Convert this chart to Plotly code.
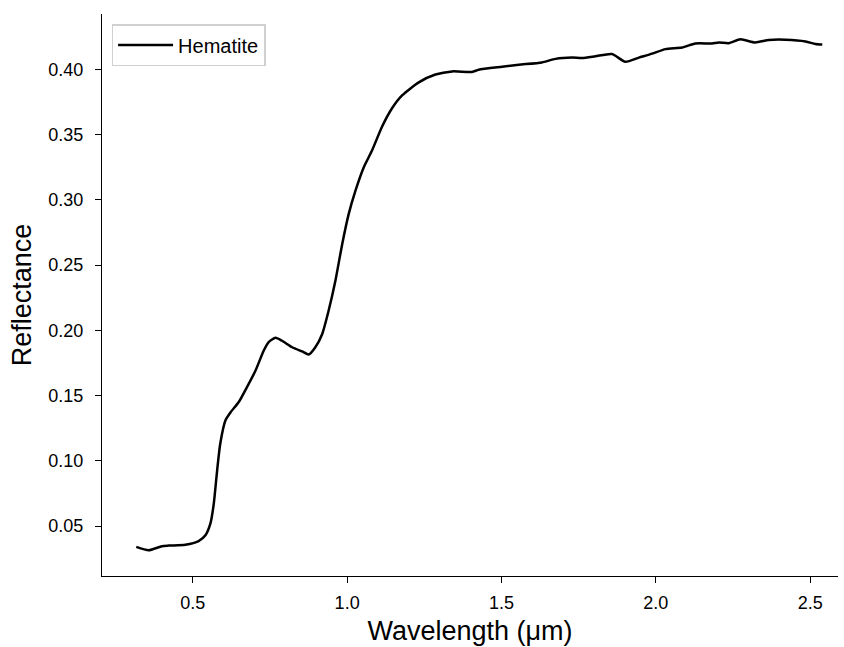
import plotly.graph_objects as go

wavelength = [0.317, 0.357, 0.40, 0.422, 0.476, 0.519, 0.541, 0.557, 0.568, 0.579, 0.589,
              0.606, 0.622, 0.649, 0.670, 0.703, 0.730, 0.746, 0.768, 0.789, 0.822, 0.854,
              0.876, 0.897, 0.919, 0.940, 0.962, 0.984, 1.005, 1.027, 1.054, 1.081, 1.113,
              1.145, 1.178, 1.232, 1.286, 1.340, 1.405, 1.426, 1.502, 1.556, 1.631, 1.675,
              1.729, 1.761, 1.804, 1.858, 1.901, 1.945, 1.988, 2.031, 2.085, 2.128, 2.182,
              2.204, 2.236, 2.274, 2.322, 2.366, 2.420, 2.485, 2.517, 2.539]
reflectance = [0.034, 0.0314, 0.0345, 0.035, 0.0357, 0.0385, 0.0429, 0.0518, 0.067, 0.0927, 0.113,
               0.131, 0.137, 0.145, 0.154, 0.169, 0.1845, 0.191, 0.1943, 0.192, 0.187, 0.1838,
               0.1815, 0.187, 0.197, 0.215, 0.238, 0.266, 0.289, 0.307, 0.325, 0.338, 0.356,
               0.370, 0.380, 0.390, 0.396, 0.3984, 0.398, 0.3997, 0.402, 0.4035, 0.4053, 0.408,
               0.409, 0.4087, 0.410, 0.4117, 0.4058, 0.409, 0.412, 0.4155, 0.4167, 0.4198, 0.4198,
               0.4206, 0.420, 0.423, 0.4206, 0.4225, 0.4227, 0.4214, 0.4194, 0.419]

x_ticks = [0.5, 1.0, 1.5, 2.0, 2.5]
y_ticks = [0.05, 0.10, 0.15, 0.20, 0.25, 0.30, 0.35, 0.40]

fig = go.Figure()
fig.add_trace(go.Scatter(x=wavelength, y=reflectance, mode="lines", name="Hematite",
                         line=dict(color="black", width=2.5, shape="spline", smoothing=0.6)))

font = "Liberation Sans, Arial, sans-serif"
fig.update_layout(
    width=844, height=647,
    margin=dict(l=102, r=6, t=14, b=71),
    paper_bgcolor="white", plot_bgcolor="white",
    font=dict(family=font, color="black", size=18),
    showlegend=True,
    legend=dict(x=0.013, y=0.982, xanchor="left", yanchor="top",
                bgcolor="white", bordercolor="#d0d0d0", borderwidth=1.5,
                itemwidth=55,
                font=dict(size=20, family=font)),
    xaxis=dict(range=[0.206, 2.59], tickvals=x_ticks, ticktext=[f"{v:.1f}" for v in x_ticks],
               showgrid=False, zeroline=False, showline=True, linecolor="black", linewidth=1.2,
               ticks="outside", ticklen=6, tickcolor="black", ticklabelstandoff=4,
               tickfont=dict(size=18),
               title=dict(text="Wavelength (μm)", font=dict(size=27), standoff=9)),
    yaxis=dict(range=[0.0117, 0.4424], tickvals=y_ticks, ticktext=[f"{v:.2f}" for v in y_ticks],
               showgrid=False, zeroline=False, showline=True, linecolor="black", linewidth=1.2,
               ticks="outside", ticklen=6, tickcolor="black", ticklabelstandoff=8,
               tickfont=dict(size=18),
               title=dict(text="Reflectance", font=dict(size=27), standoff=8)),
)

fig.write_html("out.html")
